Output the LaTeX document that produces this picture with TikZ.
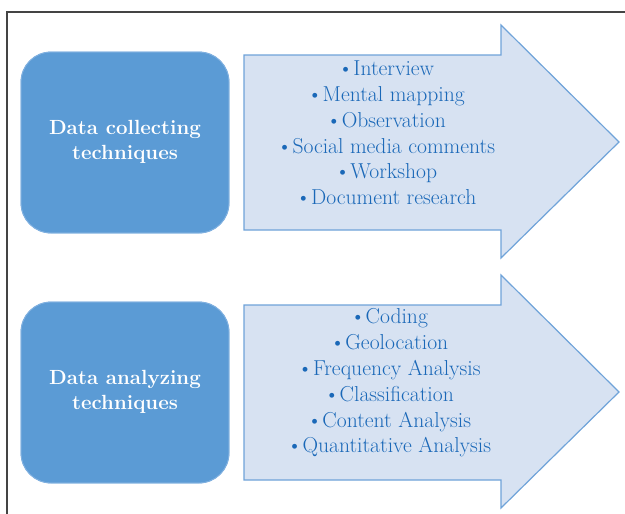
\documentclass[tikz,border=0pt]{standalone}
\usepackage{fontspec}
\usetikzlibrary{positioning}

\definecolor{boxblue}{HTML}{5B9BD5}
\definecolor{boxedge}{HTML}{7FB0E0}
\definecolor{arrowfill}{HTML}{D7E2F2}
\definecolor{arrowedge}{HTML}{6FA3D9}
\definecolor{itemblue}{HTML}{1A68B8}
\definecolor{framegray}{HTML}{444444}

\tikzset{
    techbox/.style={draw=boxedge, fill=boxblue, line width=0.8pt, rounded corners=30pt},
    bigarrow/.style={draw=arrowedge, fill=arrowfill, line width=1.2pt, line join=miter},
    techlabel/.style={text=white, align=center, font=\fontsize{20.5}{25}\selectfont\bfseries},
    itemlist/.style={text=itemblue, align=center, font=\fontsize{21.6}{25.8}\selectfont}
}

\begin{document}
\begin{tikzpicture}[x=1pt, y=-1pt]
    \useasboundingbox (0,0) rectangle (625,514);
    % outer frame, cut by the page on the right and at the bottom
    \draw [framegray, line width=1.2pt] (7,514) -- (7,12) -- (625,12);
    \foreach \dy/\name in {0/collect, 250/analyze} {
        \fill [techbox] (21,52+\dy) rectangle (229,233+\dy);
        \draw [bigarrow] (244,55+\dy) -- (501,55+\dy) -- (501,25+\dy) -- (619,142+\dy)
            -- (501,258+\dy) -- (501,230+\dy) -- (244,230+\dy) -- cycle;
        \draw [techbox, fill=none] (21,52+\dy) rectangle (229,233+\dy);
    }
    \node[techlabel] (collect) at (125,142) {Data collecting\\techniques};
    \node[techlabel] (analyze) at (125,392) {Data analyzing\\techniques};
    \node[itemlist] (collectitems) at (386,133) {%
        •Interview\\•Mental mapping\\•Observation\\•Social media comments\\•Workshop\\•Document research};
    \node[itemlist] (analyzeitems) at (389,383) {%
        •Coding\\•Geolocation\\•Frequency Analysis\\•Classification\\•Content Analysis\\•Quantitative Analysis};
\end{tikzpicture}
\end{document}
